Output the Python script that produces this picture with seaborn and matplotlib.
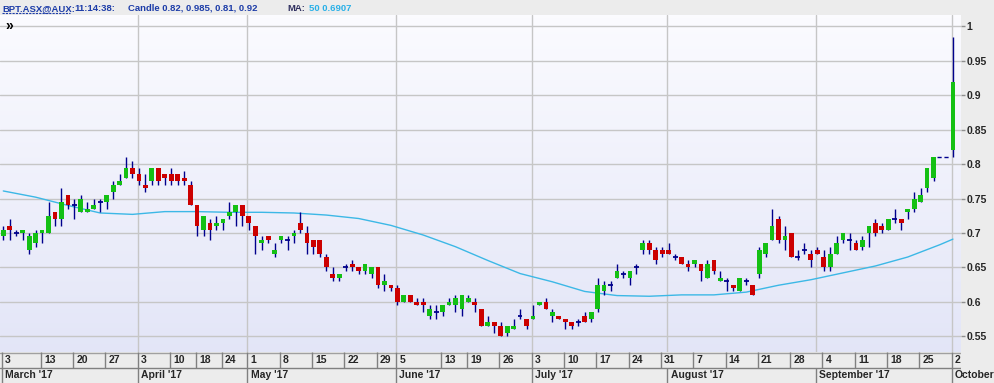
"""Candlestick chart of BPT.ASX with 50-period moving average."""

import matplotlib
matplotlib.use("Agg")
import matplotlib.pyplot as plt
from matplotlib.lines import Line2D
import numpy as np
import seaborn as sns

# OHLC per trading bar (None = no trades that day)
opens = [
    0.695, 0.71, 0.70, 0.70, 0.675, 0.685, 0.70, 0.70, 0.73, 0.72,
    0.755, 0.74, 0.73, 0.73, 0.735, 0.745, 0.745, 0.76, 0.77, 0.78,
    0.795, 0.785, 0.77, 0.775, 0.795, 0.785, 0.785, 0.785, 0.78, 0.77,
    0.74, 0.705, 0.715, 0.71, 0.715, 0.725, 0.73, 0.74, 0.725, 0.71,
    0.685, 0.695, 0.67, 0.69, 0.69, 0.695, 0.715, 0.70, 0.69, 0.69,
    0.665, 0.64, 0.635, 0.65, 0.655, 0.65, 0.645, 0.64, 0.65, 0.625,
    0.625, 0.62, 0.60, 0.61, 0.60, 0.60, 0.58, 0.585, 0.585, 0.595,
    0.595, 0.59, 0.60, 0.60, 0.59, 0.565, 0.57, 0.565, 0.555, 0.56,
    0.58, 0.575, 0.575, 0.595, 0.60, 0.58, 0.58, 0.575, 0.57, 0.57,
    0.58, 0.575, 0.59, 0.615, 0.625, 0.635, 0.64, 0.635, 0.65, 0.675,
    0.685, 0.675, 0.675, 0.675, 0.665, 0.665, 0.655, 0.655, 0.655, 0.635,
    0.66, 0.63, 0.63, 0.625, 0.615, 0.63, 0.625, 0.64, 0.67, 0.69,
    0.72, 0.69, 0.70, 0.665, 0.675, 0.67, 0.675, 0.665, 0.65, 0.67,
    0.69, 0.69, 0.685, 0.68, 0.70, 0.715, 0.71, 0.705, 0.72, 0.72,
    0.73, 0.735, 0.745, 0.765, 0.78, None, None, 0.82,
]
highs = [
    0.71, 0.72, 0.705, 0.705, 0.70, 0.705, 0.705, 0.745, 0.73, 0.765,
    0.755, 0.75, 0.755, 0.745, 0.75, 0.75, 0.755, 0.775, 0.785, 0.81,
    0.805, 0.795, 0.785, 0.795, 0.795, 0.785, 0.795, 0.785, 0.79, 0.775,
    0.74, 0.725, 0.72, 0.725, 0.72, 0.745, 0.74, 0.74, 0.725, 0.71,
    0.695, 0.695, 0.685, 0.695, 0.695, 0.705, 0.73, 0.71, 0.69, 0.69,
    0.67, 0.65, 0.64, 0.655, 0.66, 0.65, 0.655, 0.65, 0.65, 0.64,
    0.625, 0.625, 0.61, 0.61, 0.605, 0.605, 0.595, 0.595, 0.595, 0.605,
    0.61, 0.61, 0.61, 0.605, 0.59, 0.58, 0.57, 0.57, 0.565, 0.575,
    0.59, 0.575, 0.595, 0.60, 0.605, 0.59, 0.58, 0.575, 0.57, 0.575,
    0.585, 0.585, 0.635, 0.63, 0.63, 0.655, 0.645, 0.645, 0.655, 0.69,
    0.69, 0.68, 0.68, 0.685, 0.67, 0.665, 0.66, 0.66, 0.655, 0.66,
    0.66, 0.645, 0.635, 0.625, 0.635, 0.635, 0.625, 0.68, 0.685, 0.735,
    0.725, 0.71, 0.70, 0.675, 0.685, 0.675, 0.68, 0.675, 0.68, 0.695,
    0.70, 0.70, 0.69, 0.695, 0.71, 0.72, 0.715, 0.72, 0.735, 0.72,
    0.735, 0.76, 0.765, 0.795, 0.81, None, None, 0.985,
]
lows = [
    0.69, 0.69, 0.695, 0.69, 0.67, 0.68, 0.685, 0.70, 0.71, 0.71,
    0.735, 0.72, 0.73, 0.73, 0.735, 0.73, 0.735, 0.75, 0.77, 0.78,
    0.78, 0.77, 0.76, 0.77, 0.77, 0.77, 0.77, 0.77, 0.77, 0.74,
    0.695, 0.695, 0.69, 0.705, 0.705, 0.72, 0.71, 0.71, 0.705, 0.67,
    0.675, 0.685, 0.665, 0.685, 0.675, 0.685, 0.70, 0.67, 0.67, 0.665,
    0.645, 0.63, 0.63, 0.645, 0.645, 0.64, 0.64, 0.635, 0.62, 0.615,
    0.615, 0.595, 0.60, 0.60, 0.595, 0.585, 0.575, 0.575, 0.58, 0.595,
    0.585, 0.58, 0.60, 0.585, 0.565, 0.565, 0.555, 0.55, 0.55, 0.56,
    0.575, 0.56, 0.575, 0.595, 0.59, 0.57, 0.575, 0.56, 0.56, 0.565,
    0.57, 0.57, 0.585, 0.61, 0.615, 0.635, 0.635, 0.625, 0.64, 0.67,
    0.67, 0.655, 0.665, 0.67, 0.66, 0.655, 0.645, 0.65, 0.63, 0.635,
    0.64, 0.63, 0.615, 0.615, 0.615, 0.625, 0.61, 0.635, 0.665, 0.69,
    0.685, 0.675, 0.665, 0.66, 0.67, 0.65, 0.67, 0.645, 0.645, 0.67,
    0.685, 0.675, 0.675, 0.675, 0.68, 0.695, 0.70, 0.705, 0.715, 0.705,
    0.72, 0.73, 0.745, 0.76, 0.775, None, None, 0.81,
]
closes = [
    0.705, 0.705, 0.70, 0.705, 0.695, 0.70, 0.705, 0.725, 0.72, 0.745,
    0.74, 0.74, 0.75, 0.735, 0.74, 0.745, 0.755, 0.77, 0.775, 0.795,
    0.785, 0.775, 0.765, 0.795, 0.775, 0.78, 0.775, 0.775, 0.775, 0.74,
    0.71, 0.725, 0.705, 0.715, 0.72, 0.73, 0.74, 0.725, 0.715, 0.695,
    0.69, 0.69, 0.675, 0.695, 0.69, 0.70, 0.705, 0.685, 0.68, 0.67,
    0.65, 0.635, 0.64, 0.65, 0.65, 0.645, 0.655, 0.65, 0.625, 0.63,
    0.62, 0.60, 0.61, 0.60, 0.595, 0.595, 0.59, 0.585, 0.595, 0.60,
    0.605, 0.61, 0.605, 0.595, 0.565, 0.57, 0.565, 0.55, 0.565, 0.565,
    0.58, 0.565, 0.58, 0.60, 0.59, 0.585, 0.575, 0.57, 0.565, 0.57,
    0.57, 0.585, 0.625, 0.625, 0.625, 0.645, 0.64, 0.645, 0.65, 0.685,
    0.675, 0.66, 0.67, 0.67, 0.665, 0.655, 0.65, 0.66, 0.645, 0.655,
    0.645, 0.635, 0.63, 0.62, 0.635, 0.63, 0.61, 0.675, 0.685, 0.71,
    0.69, 0.695, 0.665, 0.665, 0.675, 0.66, 0.67, 0.65, 0.67, 0.685,
    0.70, 0.69, 0.675, 0.69, 0.71, 0.70, 0.705, 0.72, 0.72, 0.715,
    0.735, 0.75, 0.755, 0.795, 0.81, None, None, 0.92,
]

# 50-period moving average read at sampled bars
ma_bars = [0, 5, 10, 15, 20, 25, 30, 35, 40, 45, 50, 55, 60, 65, 70, 75,
           80, 85, 90, 95, 100, 105, 110, 115, 120, 125, 130, 135, 140, 145, 147]
ma_values = [0.761, 0.752, 0.740, 0.729, 0.727, 0.731, 0.731, 0.730, 0.730,
             0.729, 0.726, 0.721, 0.711, 0.697, 0.680, 0.660, 0.641, 0.629,
             0.615, 0.609, 0.608, 0.610, 0.610, 0.614, 0.624, 0.632, 0.642,
             0.652, 0.665, 0.683, 0.691]

# bottom axis labels (bar index, text)
week_bars = [0, 6, 11, 16, 21, 26, 30, 34, 38, 43, 48, 53, 58, 61, 68, 72, 77,
             82, 87, 92, 97, 102, 107, 112, 117, 122, 127, 132, 137, 142, 147]
week_labels = ["3", "13", "20", "27", "3", "10", "18", "24", "1", "8", "15",
               "22", "29", "5", "13", "19", "26", "3", "10", "17", "24", "31",
               "7", "14", "21", "28", "4", "11", "18", "25", "2"]
month_bars = [0, 21, 38, 61, 82, 103, 126, 147]
month_labels = ["March '17", "April '17", "May '17", "June '17", "July '17",
                "August '17", "September '17", "October"]

price_ticks = [0.55, 0.6, 0.65, 0.7, 0.75, 0.8, 0.85, 0.9, 0.95, 1.0]

UP = "#14c014"
DOWN = "#cc0000"
WICK = "#00008c"
MA_COLOR = "#3cb8e6"
GRID = "#c6c6c6"
FONT = "Liberation Sans"

sns.set_style("white")
plt.rcParams["font.family"] = [FONT, "DejaVu Sans"]

W, H = 994, 383
fig = plt.figure(figsize=(W / 100, H / 100), dpi=100, facecolor="#ececec")

x_lo, x_hi = -0.51, 148.25
y_lo, y_hi = 0.527, 1.0167
plot_right = 961 / W
ax = fig.add_axes([0, 31 / H, plot_right, 337 / H])
ax.set_xlim(x_lo, x_hi)
ax.set_ylim(y_lo, y_hi)

# background gradient
grad = np.linspace(0, 1, 256).reshape(-1, 1)
top_c = np.array([0.985, 0.985, 1.0])
bot_c = np.array([0.89, 0.90, 0.97])
img = top_c + (bot_c - top_c) * grad[..., None]
ax.imshow(img, extent=[x_lo, x_hi, y_lo, y_hi], aspect="auto", origin="upper", zorder=0)

for p in price_ticks:
    ax.axhline(p, color=GRID, lw=1, zorder=1)
for m in month_bars[1:]:
    ax.axvline(m - 0.2, color=GRID, lw=1, zorder=1)

# moving average
sns.lineplot(x=ma_bars, y=ma_values, color=MA_COLOR, lw=1, ax=ax, zorder=2)

# candles
width = 0.74
for i, (o, h, l, c) in enumerate(zip(opens, highs, lows, closes)):
    if o is None:
        continue
    ax.vlines(i, l, h, color=WICK, lw=1, zorder=3)
    if o == c:
        ax.hlines(o, i - width / 2, i + width / 2, color=WICK, lw=1.3, zorder=4)
    else:
        ax.bar(i, abs(c - o), bottom=min(o, c), width=width,
               color=UP if c > o else DOWN, lw=0, zorder=4)

# no-trade bars: dashed line at the last close
gap = [i for i, o in enumerate(opens) if o is None]
last = closes[gap[0] - 1]
ax.hlines(last, gap[0] - 0.4, gap[-1] + 0.5, color=WICK, lw=1,
          linestyles=(0, (3, 2)), zorder=3)

ax.yaxis.tick_right()
ax.set_yticks(price_ticks)
ax.set_yticklabels([f"{p:g}" for p in price_ticks], fontsize=7.5,
                   fontweight="bold", family=FONT)
ax.tick_params(axis="y", length=3, width=1, color="#909090", pad=1)
ax.set_xticks([])
for s in ax.spines.values():
    s.set_visible(False)

# bottom date strip
bx = fig.add_axes([0, 0, plot_right, 31 / H])
bx.set_xlim(x_lo, x_hi)
bx.set_ylim(0, 31)
bx.set_facecolor("#e9e9e9")
bx.axis("off")
bx.axhline(30.5, color="#a0a0a0", lw=1)
bx.axhline(15.5, color="#808080", lw=1)
for b, lab in zip(week_bars, week_labels):
    bx.vlines(b - 0.2, 15.5, 31, color="#808080", lw=1)
    bx.text(b + 0.3, 23, lab, fontsize=7.5, fontweight="bold",
            va="center", ha="left", clip_on=False)
for b, lab in zip(month_bars, month_labels):
    bx.vlines(b - 0.2, 0, 15.5, color="#808080", lw=1)
    bx.text(b + 0.3, 7.5, lab, fontsize=7.5, fontweight="bold",
            va="center", ha="left", clip_on=False)

# header line
hy = 1 - 11 / H
blue = "#1c3ca8"
hfs = 6.8
fig.text(2 / W, hy, "BPT.ASX@AUX:", color=blue, fontsize=hfs,
         fontweight="bold", va="baseline")
fig.add_artist(Line2D([2 / W, 70 / W], [1 - 13 / H] * 2, color=blue, lw=0.8,
                      ls=(0, (2, 1))))
fig.text(74 / W, hy, "11:14:38:", color=blue, fontsize=hfs,
         fontweight="bold", va="baseline")
fig.text(128 / W, hy, "Candle 0.82, 0.985, 0.81, 0.92", color=blue,
         fontsize=hfs, fontweight="bold", va="baseline")
fig.text(287 / W, hy, "MA:", color="#303060", fontsize=hfs,
         fontweight="bold", va="baseline")
fig.text(309 / W, hy, "50 0.6907", color="#28b0e8", fontsize=hfs,
         fontweight="bold", va="baseline")
fig.text(5 / W, 1 - 26 / H, "\u00bb", color="black", fontsize=10,
         fontweight="bold", va="center")

fig.savefig("out.png", dpi=100, facecolor=fig.get_facecolor())
